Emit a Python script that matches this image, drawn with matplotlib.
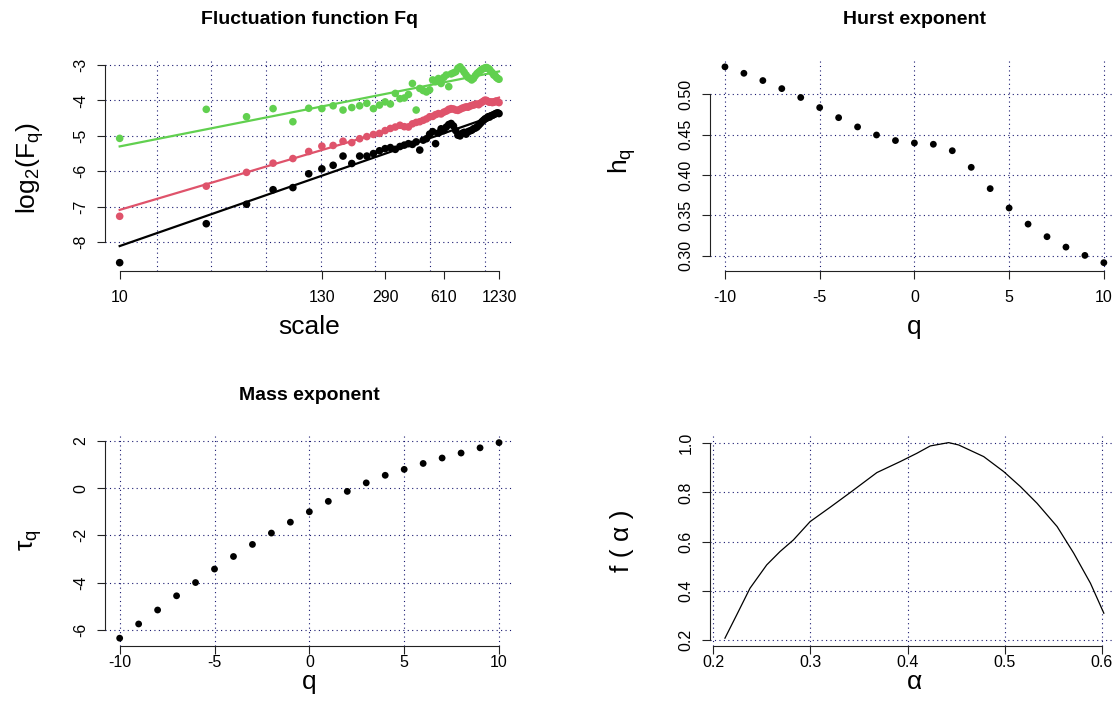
import numpy as np
import matplotlib
matplotlib.use("Agg")
import matplotlib.pyplot as plt

plt.rcParams["font.family"] = ["Liberation Sans", "DejaVu Sans"]
plt.rcParams["mathtext.fontset"] = "custom"
plt.rcParams["mathtext.rm"] = "Liberation Sans"
plt.rcParams["mathtext.it"] = "Liberation Sans:italic"
plt.rcParams["axes.unicode_minus"] = False

# ---- data -------------------------------------------------------------
scale = [10, 30, 50, 70, 90, 110, 130, 150, 170, 190, 210, 230, 250, 270,
         290, 310, 330, 350, 370, 390, 410, 430, 450, 470, 490, 510, 530,
         550, 570, 590, 610, 630, 650, 670, 690, 710, 730, 750, 770, 790,
         810, 830, 850, 870, 890, 910, 930, 950, 970, 990, 1010, 1030, 1050,
         1070, 1090, 1110, 1130, 1150, 1170, 1190, 1210, 1230]
scale_labels = [10, 130, 290, 610, 1230]

# log2 of the fluctuation function for q = -10, 0, 10
log2_fq_qmin = [-8.58, -7.48, -6.93, -6.52, -6.46, -6.07, -5.93, -5.83, -5.57,
                -5.78, -5.57, -5.57, -5.50, -5.42, -5.36, -5.33, -5.38, -5.30,
                -5.26, -5.22, -5.24, -5.17, -5.40, -5.12, -5.08, -4.95, -4.88,
                -5.22, -4.92, -4.80, -4.85, -4.75, -4.68, -4.65, -4.72, -4.85,
                -4.98, -5.00, -4.93, -4.90, -4.95, -4.88, -4.86, -4.84, -4.80,
                -4.78, -4.75, -4.70, -4.65, -4.60, -4.56, -4.52, -4.50, -4.46,
                -4.47, -4.43, -4.42, -4.40, -4.38, -4.36, -4.35, -4.37]
log2_fq_q0 = [-7.27, -6.42, -6.03, -5.77, -5.64, -5.44, -5.29, -5.27, -5.15,
              -5.19, -5.08, -5.02, -4.96, -4.93, -4.85, -4.79, -4.75, -4.70,
              -4.74, -4.75, -4.66, -4.62, -4.60, -4.56, -4.52, -4.46, -4.45,
              -4.40, -4.37, -4.38, -4.33, -4.30, -4.25, -4.23, -4.24, -4.27,
              -4.28, -4.25, -4.22, -4.20, -4.18, -4.19, -4.16, -4.14, -4.13,
              -4.11, -4.10, -4.12, -4.08, -4.05, -4.02, -3.99, -4.00, -4.03,
              -4.05, -4.04, -4.06, -4.05, -4.03, -4.02, -4.04, -4.06]
log2_fq_qmax = [-5.07, -4.25, -4.46, -4.23, -4.60, -4.22, -4.23, -4.15, -4.27,
                -4.20, -4.15, -4.08, -4.23, -4.13, -4.04, -4.10, -3.80, -3.95,
                -3.93, -3.83, -3.52, -4.27, -3.66, -3.72, -3.76, -3.70, -3.42,
                -3.47, -3.38, -3.52, -3.35, -3.28, -3.61, -3.25, -3.22, -3.19,
                -3.09, -3.05, -3.12, -3.20, -3.28, -3.35, -3.38, -3.42, -3.38,
                -3.30, -3.24, -3.20, -3.16, -3.12, -3.10, -3.08, -3.07, -3.09,
                -3.12, -3.18, -3.22, -3.28, -3.30, -3.35, -3.38, -3.40]

q = [-10, -9, -8, -7, -6, -5, -4, -3, -2, -1, 0, 1, 2, 3, 4, 5, 6, 7, 8, 9, 10]
hq = [0.534, 0.526, 0.517, 0.507, 0.496, 0.4835, 0.471, 0.4595, 0.4495,
      0.4426, 0.4396, 0.438, 0.430, 0.4094, 0.383, 0.359, 0.339, 0.3234,
      0.3105, 0.3002, 0.2912]
tau_q = [-6.34, -5.74, -5.15, -4.55, -3.99, -3.42, -2.89, -2.38, -1.90, -1.44,
         -1.00, -0.56, -0.14, 0.22, 0.54, 0.79, 1.04, 1.27, 1.48, 1.70, 1.92]

alpha = [0.2120, 0.2241, 0.2378, 0.2550, 0.2687, 0.2825, 0.2997, 0.3203,
         0.3409, 0.3684, 0.3924, 0.4096, 0.4234, 0.4423, 0.4526, 0.4784,
         0.4990, 0.5162, 0.5333, 0.5540, 0.5711, 0.5883, 0.6021]
f_alpha = [0.2067, 0.3016, 0.4101, 0.5050, 0.5593, 0.6067, 0.6813, 0.7396,
           0.7993, 0.8807, 0.9254, 0.9593, 0.9892, 1.0027, 0.9932, 0.9458,
           0.8847, 0.8237, 0.7559, 0.6610, 0.5525, 0.4304, 0.3084]

# ---- styling helpers ----------------------------------------------------
GRID_COLOR = "#191970"
TICK_SIZE = 11.5
LABEL_SIZE = 19
TITLE_SIZE = 14


def r_limits(values, frac=0.04):
    lo, hi = min(values), max(values)
    pad = (hi - lo) * frac
    return lo - pad, hi + pad


def r_style(ax, xticks, xlabels, yticks, ylabels, xgrid, ygrid, xpad):
    for x in xgrid:
        ax.axvline(x, color=GRID_COLOR, lw=0.8, ls=(0, (1, 3)), zorder=0.5)
    for y in ygrid:
        ax.axhline(y, color=GRID_COLOR, lw=0.8, ls=(0, (1, 3)), zorder=0.5)
    for side in ("top", "right"):
        ax.spines[side].set_visible(False)
    for side in ("left", "bottom"):
        ax.spines[side].set_linewidth(0.8)
        ax.spines[side].set_color("#222222")
    ax.set_xticks(xticks)
    ax.set_xticklabels(xlabels)
    ax.set_yticks(yticks)
    ax.set_yticklabels(ylabels, rotation=90, va="center")
    ax.spines["bottom"].set_bounds(xticks[0], xticks[-1])
    ax.spines["left"].set_bounds(yticks[0], yticks[-1])
    ax.tick_params(direction="out", length=5.8, width=0.8, color="#222222",
                   labelsize=TICK_SIZE)
    ax.tick_params(axis="x", pad=xpad)
    ax.tick_params(axis="y", pad=6)
    ax.set_facecolor("white")


def place_labels(ax, title, xlabel, ylabel, title_y, xlab_y, ylab_x, ylab_y=0.5):
    if title:
        ax.set_title(title, fontsize=TITLE_SIZE, fontweight="bold", y=title_y,
                     va="center", pad=0)
    ax.set_xlabel(xlabel, fontsize=LABEL_SIZE)
    ax.xaxis.set_label_coords(0.5, xlab_y)
    ax.xaxis.label.set_va("center")
    ax.set_ylabel(ylabel, fontsize=LABEL_SIZE)
    ax.yaxis.set_label_coords(ylab_x, ylab_y)
    ax.yaxis.label.set_va("center")


W, H = 1112, 720
fig = plt.figure(figsize=(W / 100, H / 100), dpi=100)
fig.patch.set_facecolor("white")


def px_axes(left, top, right, bottom):
    return fig.add_axes([left / W, 1 - bottom / H, (right - left) / W,
                         (bottom - top) / H])


ax1 = px_axes(104.5, 59, 514.2, 270.5)
ax2 = px_axes(709.8, 59, 1119.0, 270.5)
ax3 = px_axes(104.5, 434.8, 514.2, 646.0)
ax4 = px_axes(709.8, 434.8, 1119.0, 646.0)

# ---- Fluctuation function ----------------------------------------------
lx = np.log2(scale)
series = [(log2_fq_qmin, "black"), (log2_fq_q0, "#DF536B"),
          (log2_fq_qmax, "#61D04F")]
for vals, col in series:
    ax1.scatter(lx, vals, s=30, color=col, edgecolors="none", zorder=3)
    slope, icpt = np.polyfit(lx, vals, 1)
    ax1.plot(lx, slope * lx + icpt, color=col, lw=1.6, zorder=3)
r_style(ax1, list(np.log2(scale_labels)), [str(s) for s in scale_labels],
        [-8, -7, -6, -5, -4, -3], ["-8", "-7", "-6", "-5", "-4", "-3"],
        [4, 5, 6, 7, 8, 9, 10], [-8, -7, -6, -5, -4, -3], xpad=8.5)
ax1.set_xlim(r_limits(lx))
ax1.set_ylim(r_limits(log2_fq_qmin + log2_fq_q0 + log2_fq_qmax))
place_labels(ax1, "Fluctuation function Fq", "scale",
             r"$\mathregular{log_2(F_q)}$", 1.185, -0.267, -0.182, 0.485)

# ---- Hurst exponent ----------------------------------------------------
ax2.scatter(q, hq, s=24, color="black", edgecolors="none", zorder=3)
r_style(ax2, [-10, -5, 0, 5, 10], ["-10", "-5", "0", "5", "10"],
        [0.30, 0.35, 0.40, 0.45, 0.50], ["0.30", "0.35", "0.40", "0.45", "0.50"],
        [-10, -5, 0, 5, 10], [0.30, 0.35, 0.40, 0.45, 0.50], xpad=8.5)
ax2.set_xlim(r_limits(q))
ax2.set_ylim(r_limits(hq))
place_labels(ax2, "Hurst exponent", "q", r"$\mathregular{h_q}$",
             1.185, -0.267, -0.215, 0.52)

# ---- Mass exponent -----------------------------------------------------
ax3.scatter(q, tau_q, s=24, color="black", edgecolors="none", zorder=3)
r_style(ax3, [-10, -5, 0, 5, 10], ["-10", "-5", "0", "5", "10"],
        [-6, -4, -2, 0, 2], ["-6", "-4", "-2", "0", "2"],
        [-10, -5, 0, 5, 10], [-6, -4, -2, 0, 2], xpad=0.8)
ax3.set_xlim(r_limits(q))
ax3.set_ylim(r_limits(tau_q))
place_labels(ax3, "Mass exponent", "q", r"$\mathregular{\tau_q}$",
             1.185, -0.172, -0.18, 0.5)

# ---- Singularity spectrum ----------------------------------------------
ax4.plot(alpha, f_alpha, color="black", lw=0.9, zorder=3)
r_style(ax4, [0.2, 0.3, 0.4, 0.5, 0.6], ["0.2", "0.3", "0.4", "0.5", "0.6"],
        [0.2, 0.4, 0.6, 0.8, 1.0], ["0.2", "0.4", "0.6", "0.8", "1.0"],
        [0.2, 0.3, 0.4, 0.5, 0.6], [0.2, 0.4, 0.6, 0.8, 1.0], xpad=0.8)
ax4.set_xlim(r_limits(alpha))
ax4.set_ylim(r_limits(f_alpha))
place_labels(ax4, "", "α", "f ( α )", 1.185, -0.172, -0.215, 0.5)

fig.savefig("out.png", dpi=100, facecolor="white")
